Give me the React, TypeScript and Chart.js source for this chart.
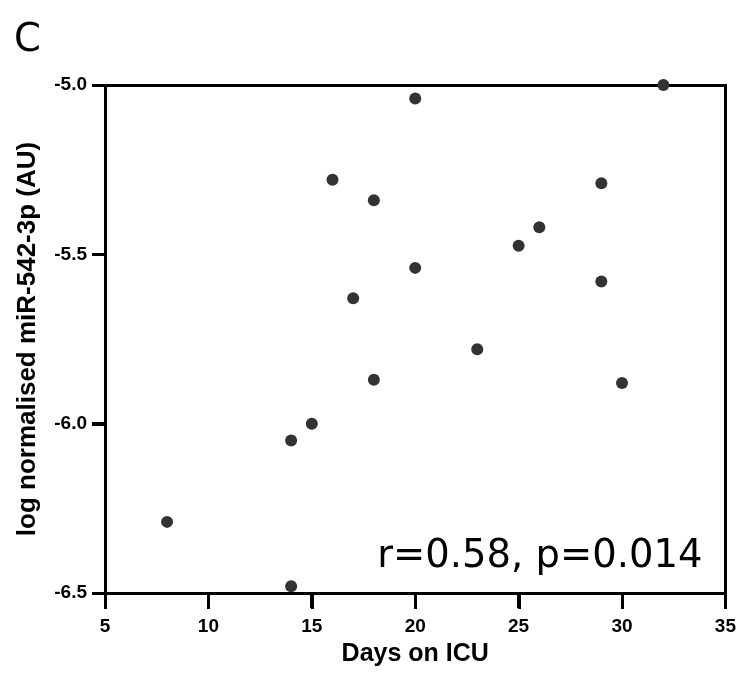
import React, { useEffect, useRef } from "react";
import { Chart, registerables } from "chart.js";

Chart.register(...registerables);

const daysOnICU = [8, 14, 14, 15, 16, 17, 18, 18, 20, 20, 23, 25, 26, 29, 29, 30, 32];
const mirValues = [-6.29, -6.48, -6.05, -6.0, -5.28, -5.63, -5.34, -5.87, -5.04, -5.54, -5.78, -5.475, -5.42, -5.29, -5.58, -5.88, -5.0];
const xTicks = [5, 10, 15, 20, 25, 30, 35];
const yTicks = [-6.5, -6.0, -5.5, -5.0];
const panelLabel = "C";
const statsText = "r=0.58, p=0.014";
const xTitle = "Days on ICU";
const yTitle = "log normalised miR-542-3p (AU)";

const X_TICK_LEN = 15;
const Y_TICK_LEN = 13;
const LINE_W = 3;

export default function App() {
  const ref = useRef<HTMLCanvasElement | null>(null);

  useEffect(() => {
    document.body.style.margin = "0";
    const canvas = ref.current;
    if (!canvas) return;

    const boxPlugin = {
      id: "boxPlugin",
      beforeDatasetsDraw(chart: any) {
        const { ctx, chartArea } = chart;
        const l = Math.round(chartArea.left);
        const r = Math.round(chartArea.right);
        const t = Math.round(chartArea.top);
        const b = Math.round(chartArea.bottom);
        ctx.save();
        ctx.fillStyle = "#000";
        ctx.fillRect(l - 1, t - 1, r - l + 2, LINE_W);
        ctx.fillRect(r - 1, t - 1, LINE_W, b - t + 2);
        ctx.fillRect(l - 1, b - 1, r - l + 2, LINE_W);
        ctx.fillRect(l - 1, t - 1, LINE_W, b - t + 2);
        ctx.restore();
      },
      afterDraw(chart: any) {
        const { ctx, chartArea } = chart;
        const xs = chart.scales.x;
        const ys = chart.scales.y;
        const l = Math.round(chartArea.left);
        const b = Math.round(chartArea.bottom);
        ctx.save();
        ctx.globalAlpha = 1;
        ctx.globalCompositeOperation = "source-over";
        ctx.fillStyle = "#000000";
        for (let i = 0; i < xTicks.length; i++) {
          const px = Math.round(xs.getPixelForValue(xTicks[i]));
          ctx.fillRect(px - 1, b + 1, LINE_W, X_TICK_LEN);
        }
        for (let i = 0; i < yTicks.length; i++) {
          const py = Math.round(ys.getPixelForValue(yTicks[i]));
          ctx.fillRect(l - Y_TICK_LEN, py - 1, Y_TICK_LEN, LINE_W);
        }
        ctx.font = '38.5px "DejaVu Sans"';
        ctx.textBaseline = "alphabetic";
        ctx.textAlign = "right";
        ctx.fillText(statsText, chartArea.right - 23, chartArea.bottom - 26);
        ctx.textAlign = "left";
        ctx.fillText(panelLabel, 14, 51);
        ctx.restore();
      },
    };

    const chart = new Chart(canvas, {
      type: "scatter",
      data: {
        datasets: [
          {
            data: daysOnICU.map((x, i) => ({ x, y: mirValues[i] })),
            backgroundColor: "#333333",
            borderColor: "#333333",
            pointRadius: 6,
            pointHoverRadius: 6,
            borderWidth: 0,
            clip: false as any,
          },
        ],
      },
      options: {
        responsive: false,
        animation: false,
        devicePixelRatio: 1,
        layout: { padding: { top: 85, right: 17, left: 0, bottom: 0 } },
        plugins: { legend: { display: false }, tooltip: { enabled: false } },
        scales: {
          x: {
            type: "linear",
            min: 5,
            max: 35,
            afterFit(scale: any) {
              scale.height = 85;
            },
            afterBuildTicks(scale: any) {
              scale.ticks = xTicks.map((v) => ({ value: v }));
            },
            ticks: {
              color: "#000",
              font: { family: '"Liberation Sans", Arial, sans-serif', size: 19, weight: "bold" },
              padding: 7,
              maxRotation: 0,
              callback: (v: any) => String(v),
            },
            grid: {
              display: true,
              drawOnChartArea: false,
              drawTicks: true,
              tickLength: X_TICK_LEN,
              lineWidth: LINE_W,
              color: "#000000",
              tickColor: "#000000",
              tickWidth: LINE_W,
            },
            border: { display: true, color: "#000", width: LINE_W },
            title: {
              display: true,
              text: xTitle,
              color: "#000",
              font: { family: '"Liberation Sans", Arial, sans-serif', size: 25, weight: "bold" },
              padding: { top: 0, bottom: 9 },
            },
          },
          y: {
            type: "linear",
            min: -6.5,
            max: -5.0,
            afterFit(scale: any) {
              scale.width = 105;
            },
            afterBuildTicks(scale: any) {
              scale.ticks = yTicks.map((v) => ({ value: v }));
            },
            ticks: {
              color: "#000",
              font: { family: '"Liberation Sans", Arial, sans-serif', size: 19, weight: "bold" },
              padding: 5,
              callback: (v: any) => Number(v).toFixed(1),
            },
            grid: {
              display: true,
              drawOnChartArea: false,
              drawTicks: true,
              tickLength: Y_TICK_LEN,
              lineWidth: LINE_W,
              color: "#000000",
              tickColor: "#000000",
              tickWidth: LINE_W,
            },
            border: { display: true, color: "#000", width: LINE_W },
            title: {
              display: true,
              text: yTitle,
              color: "#000",
              font: { family: '"Liberation Sans", Arial, sans-serif', size: 26, weight: "bold" },
              padding: { top: 12, bottom: 0 },
            },
          },
        },
      },
      plugins: [boxPlugin],
    });

    return () => chart.destroy();
  }, []);

  return (
    <div style={{ position: "absolute", left: 0, top: 0, width: 743, height: 678 }}>
      <canvas ref={ref} width={743} height={678} />
    </div>
  );
}
